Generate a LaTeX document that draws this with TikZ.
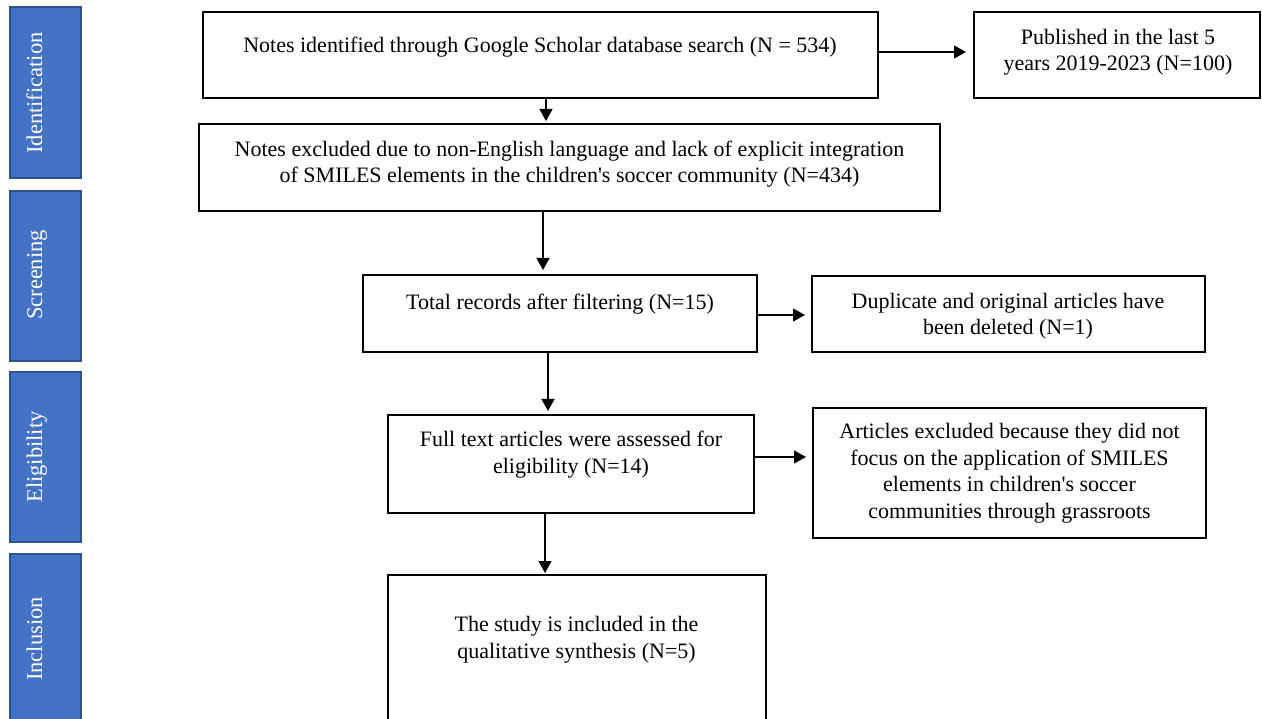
\documentclass[tikz,border=0pt]{standalone}
\usepackage{fontspec}
\setmainfont{Liberation Serif}
\usetikzlibrary{arrows.meta}
\definecolor{phasefill}{HTML}{4472C4}
\definecolor{phaseedge}{HTML}{2F528F}
\newcommand{\apos}{\textquotesingle}
\begin{document}
\begin{tikzpicture}[x=1pt,y=-1pt,
  phase/.style={draw=phaseedge, line width=2pt, fill=phasefill,
    minimum width=71.5pt, inner sep=0pt, outer sep=0pt},
  phaselabel/.style={text=white, font=\fontsize{22.5}{26}\selectfont,
    rotate=90, anchor=base, inner sep=0pt},
  box/.style={draw=black, line width=2.2pt, inner sep=0pt, outer sep=0pt},
  txt/.style={font=\fontsize{22}{26.5}\selectfont, align=center,
    anchor=base, inner sep=0pt},
  arr/.style={line width=1.2pt, -{Triangle[length=12pt,width=13pt]}}]

\useasboundingbox (0,0) rectangle (1262,719);
\clip (0,0) rectangle (1262,719);

% phase bars on the left
\node[phase, minimum height=171pt] (ph1) at (45.25,92.5) {};
\node[phase, minimum height=170pt] (ph2) at (45.25,276) {};
\node[phase, minimum height=170pt] (ph3) at (45.25,457) {};
\node[phase, minimum height=186pt] (ph4) at (45.25,647) {};
\node[phaselabel] (l1) at (42,93)  {Identification};
\node[phaselabel] (l2) at (42,275) {Screening};
\node[phaselabel] (l3) at (42,457) {Eligibility};
\node[phaselabel] (l4) at (42,639) {Inclusion};

% flow boxes
\node[box, minimum width=675pt, minimum height=86pt] (b1)  at (540.5,55) {};
\node[box, minimum width=286pt, minimum height=86pt] (pub) at (1117,55) {};
\node[box, minimum width=741pt, minimum height=87pt] (b2)  at (569.5,167.5) {};
\node[box, minimum width=394pt, minimum height=77pt] (b3)  at (560,313.5) {};
\node[box, minimum width=393pt, minimum height=76pt] (dup) at (1008.5,314) {};
\node[box, minimum width=366pt, minimum height=98pt] (b4)  at (571,464) {};
\node[box, minimum width=393pt, minimum height=130pt] (art) at (1009.5,473) {};
\node[box, minimum width=378pt, minimum height=165pt] (b5)  at (577,657.5) {};

% box texts (base anchor sits on the last line)
\node[txt] (t1) at (540,53) {Notes identified through Google Scholar database search (N = 534)};
\node[txt] (tp) at (1118,71) {Published in the last 5\\years 2019-2023 (N=100)};
\node[txt] (t2) at (569.5,183) {Notes excluded due to non-English language and lack of explicit integration\\of SMILES elements in the children\apos s soccer community (N=434)};
\node[txt] (t3) at (560,310) {Total records after filtering (N=15)};
\node[txt] (td) at (1008,335) {Duplicate and original articles have\\been deleted (N=1)};
\node[txt] (t4) at (571,473) {Full text articles were assessed for\\eligibility (N=14)};
\node[txt] (ta) at (1009.5,518) {Articles excluded because they did not\\focus on the application of SMILES\\elements in children\apos s soccer\\communities through grassroots};
\node[txt] (t5) at (576.5,658) {The study is included in the\\qualitative synthesis (N=5)};

% connectors
\draw[arr, shorten >=3pt] ([xshift=5.5pt]b1.south) -- ([xshift=5.5pt]b1.south |- b2.north);
\draw[arr, shorten >=8pt] ([yshift=3pt]b1.east) -- ([yshift=3pt]b1.east -| pub.west);
\draw[arr, shorten >=5pt] ([xshift=-26.5pt]b2.south) -- ([xshift=-26.5pt]b2.south |- b3.north);
\draw[arr, shorten >=4pt] ([xshift=-12pt]b3.south) -- ([xshift=-12pt]b3.south |- b4.north);
\draw[arr, shorten >=7pt] ([yshift=-1.5pt]b3.east) -- ([yshift=-1.5pt]b3.east -| dup.west);
\draw[arr, shorten >=7pt] ([yshift=7pt]b4.east) -- ([yshift=7pt]b4.east -| art.west);
\draw[arr, shorten >=2pt] ([xshift=-26pt]b4.south) -- ([xshift=-26pt]b4.south |- b5.north);
\end{tikzpicture}
\end{document}
